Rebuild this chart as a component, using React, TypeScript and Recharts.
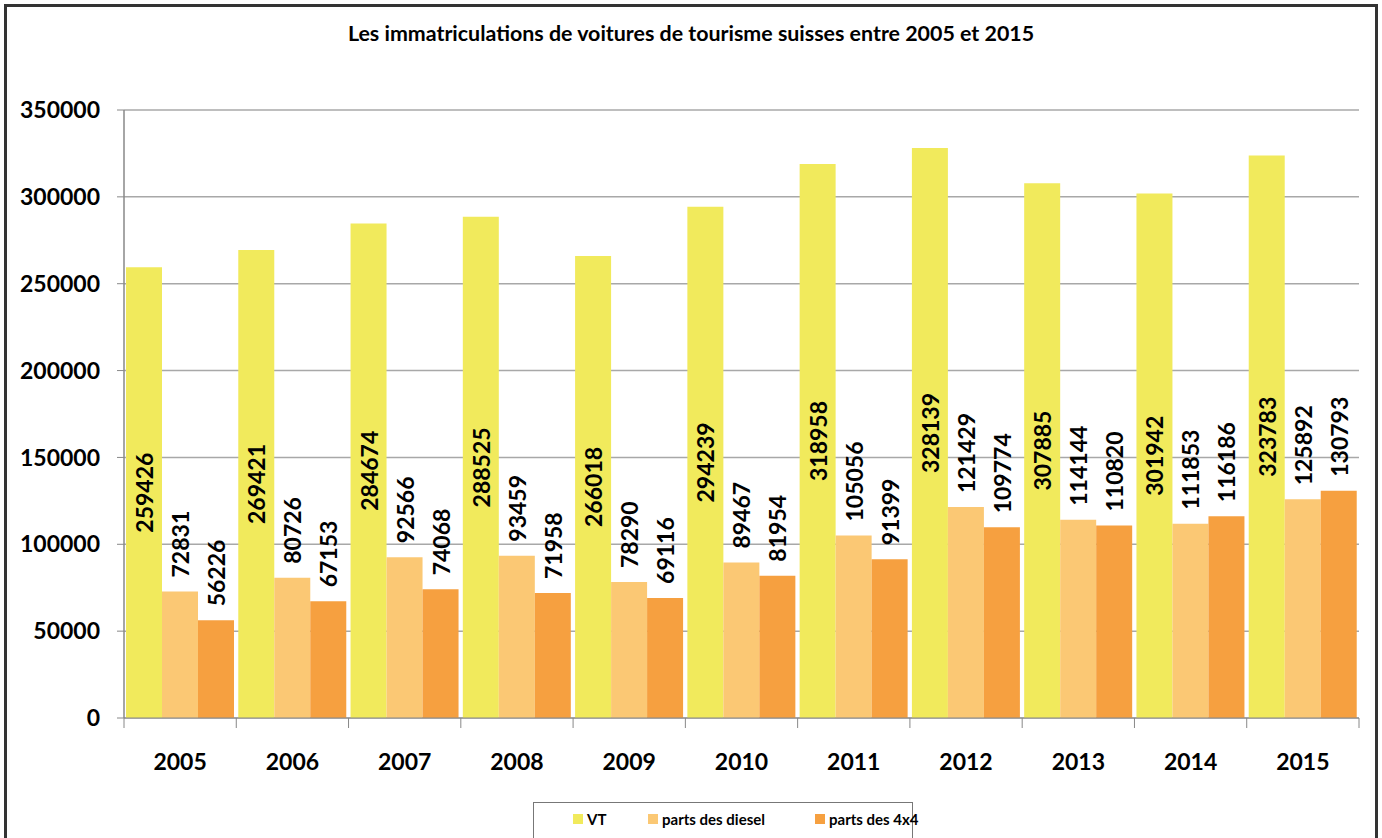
import { BarChart, Bar, XAxis, YAxis, CartesianGrid, LabelList } from "recharts";

const years = ["2005", "2006", "2007", "2008", "2009", "2010", "2011", "2012", "2013", "2014", "2015"];
const vt = [259426, 269421, 284674, 288525, 266018, 294239, 318958, 328139, 307885, 301942, 323783];
const diesel = [72831, 80726, 92566, 93459, 78290, 89467, 105056, 121429, 114144, 111853, 125892];
const quatre = [56226, 67153, 74068, 71958, 69116, 81954, 91399, 109774, 110820, 116186, 130793];
const yTicks = [0, 50000, 100000, 150000, 200000, 250000, 300000, 350000];

const data = years.map((y, i) => ({ year: y, vt: vt[i], diesel: diesel[i], quatre: quatre[i] }));

const FONT = "Lato, 'Open Sans', sans-serif";
const PLOT_LEFT = 124;
const PLOT_RIGHT = 1359;
const CAT_W = (PLOT_RIGHT - PLOT_LEFT) / years.length;

const YearTick = (props: any) => {
  const { x, y, payload, index } = props;
  const last = index === years.length - 1;
  return (
    <g>
      <line x1={x - CAT_W / 2} x2={x - CAT_W / 2} y1={y - 8} y2={y + 2} stroke="#888" />
      {last && <line x1={x + CAT_W / 2} x2={x + CAT_W / 2} y1={y - 8} y2={y + 2} stroke="#888" />}
      <text x={x} y={y + 44} textAnchor="middle" fontSize={23} fontWeight={700} fill="#000" fontFamily={FONT}>
        {payload.value}
      </text>
    </g>
  );
};

const makeLabel = (inside: boolean) => (props: any) => {
  const { x, y, width, height, value } = props;
  const cx = x + width / 2;
  const cy = inside ? y + height / 2 : y - 14;
  return (
    <text
      x={cx}
      y={cy}
      transform={`rotate(-90 ${cx} ${cy})`}
      textAnchor={inside ? "middle" : "start"}
      dominantBaseline="central"
      fontSize={23}
      fontWeight={700}
      fill="#000"
      fontFamily={FONT}
    >
      {value}
    </text>
  );
};

const legendItems = [
  { name: "VT", color: "#f1ea5c" },
  { name: "parts des diesel", color: "#fbc874" },
  { name: "parts des 4x4", color: "#f6a040" },
];

export default function App() {
  return (
    <div style={{ position: "fixed", left: 0, top: 0, width: 1382, height: 838, background: "#fff", overflow: "hidden" }}>
      <div
        style={{
          position: "absolute",
          left: 4,
          top: 4,
          width: 1368,
          height: 850,
          border: "3px solid #333",
        }}
      />
      <div
        style={{
          position: "absolute",
          top: 20,
          left: 0,
          width: 1382,
          textAlign: "center",
          fontFamily: FONT,
          fontWeight: 700,
          fontSize: 21.4,
          color: "#000",
        }}
      >
        Les immatriculations de voitures de tourisme suisses entre 2005 et 2015
      </div>
      <div style={{ position: "absolute", left: 0, top: 0 }}>
        <BarChart
          width={1382}
          height={838}
          data={data}
          margin={{ top: 110, right: 23, bottom: 80, left: 24 }}
          barCategoryGap={2}
          barGap={0}
        >
          <CartesianGrid vertical={false} stroke="#a8a8a8" strokeWidth={1.5} />
          <XAxis
            dataKey="year"
            height={40}
            axisLine={{ stroke: "#888" }}
            tickLine={false}
            tick={<YearTick />}
            interval={0}
          />
          <YAxis
            domain={[0, 350000]}
            ticks={yTicks}
            width={100}
            axisLine={{ stroke: "#888", strokeWidth: 1.5 }}
            tickLine={{ stroke: "#888" }}
            tickSize={7}
            tickMargin={17}
            tick={{ fontSize: 23, fontWeight: 700, fill: "#000", fontFamily: FONT }}
          />
          <YAxis
            yAxisId="r"
            orientation="right"
            width={0}
            tick={false}
            tickLine={false}
            axisLine={{ stroke: "#999", strokeWidth: 1.5 }}
          />
          <Bar dataKey="vt" name="VT" fill="#f1ea5c" isAnimationActive={false}>
            <LabelList dataKey="vt" content={makeLabel(true)} />
          </Bar>
          <Bar dataKey="diesel" name="parts des diesel" fill="#fbc874" isAnimationActive={false}>
            <LabelList dataKey="diesel" content={makeLabel(false)} />
          </Bar>
          <Bar dataKey="quatre" name="parts des 4x4" fill="#f6a040" isAnimationActive={false}>
            <LabelList dataKey="quatre" content={makeLabel(false)} />
          </Bar>
        </BarChart>
      </div>
      <div
        style={{
          position: "absolute",
          left: 533,
          top: 802,
          width: 380,
          height: 60,
          border: "1.5px solid #777",
          boxSizing: "border-box",
          fontFamily: FONT,
          fontWeight: 700,
          fontSize: 15,
          color: "#000",
        }}
      >
        {legendItems.map((it, i) => (
          <div
            key={it.name}
            style={{
              position: "absolute",
              left: [39, 114, 281][i],
              top: 7,
              display: "flex",
              alignItems: "center",
              whiteSpace: "nowrap",
            }}
          >
            <span style={{ display: "inline-block", width: 10, height: 10, background: it.color, marginRight: 4 }} />
            {it.name}
          </div>
        ))}
      </div>
    </div>
  );
}
